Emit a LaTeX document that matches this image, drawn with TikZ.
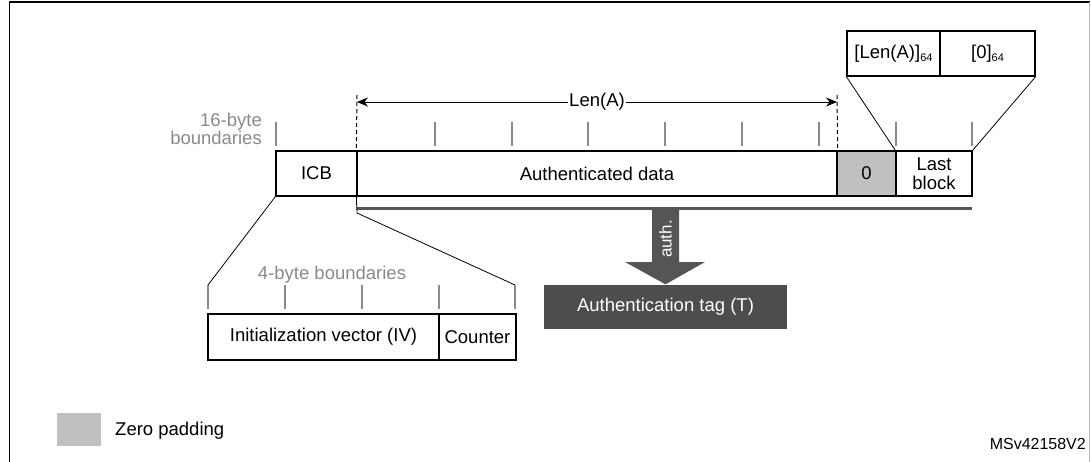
\documentclass[tikz,border=0pt]{standalone}
\usepackage{fontspec}
\setmainfont{Liberation Sans}
\usetikzlibrary{arrows.meta}
\definecolor{tickgray}{HTML}{8A8A8A}
\definecolor{padgray}{HTML}{C0C0C0}
\definecolor{bardark}{HTML}{555555}
\definecolor{tagdark}{HTML}{4D4D4D}
\begin{document}
\begin{tikzpicture}[x=1pt,y=-1pt,
  txt/.style={font=\fontsize{18.5}{18.5}\selectfont},
  box/.style={draw=black, line width=1.3pt, inner sep=0pt, minimum height=45pt, font=\fontsize{18.5}{19}\selectfont, align=center},
  tickline/.style={draw=tickgray, line width=1.2pt},
  graytxt/.style={text=tickgray, font=\fontsize{18.5}{18.5}\selectfont, inner sep=0pt},
  thin/.style={draw=black, line width=0.8pt}]
\newcommand{\sixtyfour}{{\fontsize{11}{11}\selectfont\raisebox{-3pt}{64}}}
\useasboundingbox (0,0) rectangle (1091,461);
% frame
\draw[black, line width=1.5pt] (9.5,463) -- (9.5,2) -- (1089.5,2);
\draw[tickgray!60, line width=0.8pt] (1089.5,2) -- (1089.5,463);
% main row
\node[box, minimum width=81pt] (icb) at (316.5,173.5) {ICB};
\node[box, minimum width=480pt] (ad) at (597,173.5) {Authenticated data};
\node[box, minimum width=59pt, fill=padgray] (zero) at (866.5,173.5) {0};
\node[box, minimum width=76pt] (last) at (934,173.5) {\fontsize{18.5}{18}\selectfont Last\\block};
% top-right expansion
\node[box, minimum width=93pt] (lenb) at (893.5,53.5) {[Len(A)]\sixtyfour};
\node[box, minimum width=95pt] (zb) at (987.5,53.5) {[0]\sixtyfour};
\draw[thin] (lenb.south west) -- (last.north west);
\draw[thin] (zb.south east) -- (last.north east);
% 16-byte ticks
\foreach \x in {276,435,512,588,665,742,819,896,972}
  \draw[tickline] (\x,122) -- (\x,146);
\node[graytxt, align=right, anchor=east] (b16) at (262,129) {\fontsize{18.5}{18}\selectfont 16-byte\\boundaries};
% Len(A) dimension
\coordinate (dl) at (357,95);
\coordinate (dr) at (837,95);
\draw[black, line width=1pt, dashed, dash pattern=on 4pt off 3pt] (dl) -- (ad.north west);
\draw[black, line width=1pt, dashed, dash pattern=on 4pt off 3pt] (dr) -- (ad.north east);
\draw[black, line width=0.8pt, {Stealth[length=11pt,width=9pt]}-{Stealth[length=11pt,width=9pt]}]
  (357,102) -- node[fill=white, inner sep=1pt, txt] (lena) {Len(A)} (837,102);
% dark bar
\coordinate (barL) at (357,208.5);
\coordinate (barR) at (972,208.5);
\draw[bardark, line width=3.2pt] (barL) -- (barR);
% ICB expansion
\node[box, minimum width=231pt, minimum height=46pt] (iv) at (323.5,337) {Initialization vector (IV)};
\node[box, minimum width=77pt, minimum height=46pt] (ctr) at (477.5,337) {Counter};
\foreach \x in {208,285,362,439,515}
  \draw[tickline] (\x,285) -- (\x,309);
\node[graytxt] (b4) at (332,275) {4-byte boundaries};
\coordinate (ivl) at (208,285);
\coordinate (ivr) at (515,285);
\draw[thin] (icb.south west) -- (ivl);
\draw[thin] (ad.south west) -- (357,213) -- (ivr);
% auth arrow
\node[box, draw=none, fill=tagdark, text=white, minimum width=243pt, minimum height=44pt, font=\fontsize{18.5}{19}\selectfont] (tag) at (665.5,307) {Authentication tag (T)};
\fill[bardark] (652,209) -- (679,209) -- (679,262) -- (705,262) -- (tag.north) -- (625,262) -- (652,262) -- cycle;
\node[rotate=90, text=white, font=\fontsize{17}{17}\selectfont, inner sep=0pt] (auth) at (665.5,239) {auth.};
% legend
\fill[padgray] (57,413) rectangle (101,446);
\node[txt, anchor=west, inner sep=0pt] (zp) at (115,431) {Zero padding};
\node[anchor=east, inner sep=0pt, font=\fontsize{16}{16}\selectfont] (ms) at (1086,444) {MSv42158V2};
\end{tikzpicture}
\end{document}
